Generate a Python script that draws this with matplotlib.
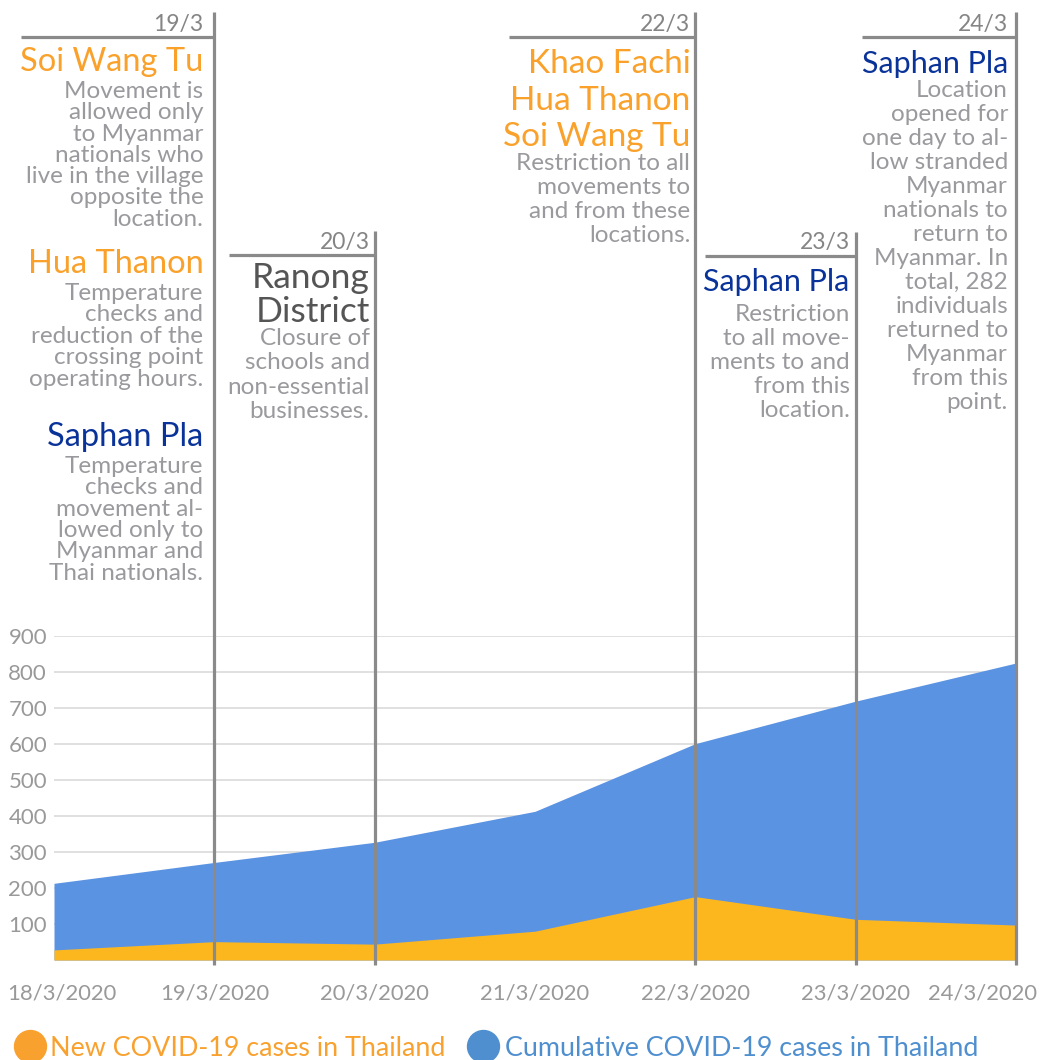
import matplotlib.pyplot as plt
from matplotlib.lines import Line2D
from matplotlib.transforms import blended_transform_factory, ScaledTranslation

plt.rcParams['font.family'] = ['Lato', 'DejaVu Sans']

# data
dates = ['18/3/2020', '19/3/2020', '20/3/2020', '21/3/2020',
         '22/3/2020', '23/3/2020', '24/3/2020']
cumulative = [213, 271, 327, 413, 601, 719, 825]
new_cases = [28, 51, 44, 80, 176, 113, 97]
yticks = [100, 200, 300, 400, 500, 600, 700, 800, 900]

event_idx = [1, 2, 4, 5, 6]
event_labels = ['19/3', '20/3', '22/3', '23/3', '24/3']

# (headline, kind, body) per event
notes_19 = [
    (['Soi Wang Tu'], 'orange',
     ['Movement is', 'allowed only', 'to Myanmar', 'nationals who',
      'live in the village', 'opposite the', 'location.']),
    (['Hua Thanon'], 'orange',
     ['Temperature', 'checks and', 'reduction of the', 'crossing point',
      'operating hours.']),
    (['Saphan Pla'], 'navy',
     ['Temperature', 'checks and', 'movement al-', 'lowed only to',
      'Myanmar and', 'Thai nationals.']),
]
notes_20 = [(['Ranong', 'District'], 'dark',
             ['Closure of', 'schools and', 'non-essential', 'businesses.'])]
notes_22 = [(['Khao Fachi', 'Hua Thanon', 'Soi Wang Tu'], 'orange',
             ['Restriction to all', 'movements to', 'and from these',
              'locations.'])]
notes_23 = [(['Saphan Pla'], 'navy',
             ['Restriction', 'to all move-', 'ments to and', 'from this',
              'location.'])]
notes_24 = [(['Saphan Pla'], 'navy',
             ['Location', 'opened for', 'one day to al-', 'low stranded',
              'Myanmar', 'nationals to', 'return to', 'Myanmar. In',
              'total, 282', 'individuals', 'returned to', 'Myanmar',
              'from this', 'point.'])]

legend_labels = ['New COVID-19 cases in Thailand',
                 'Cumulative COVID-19 cases in Thailand']

# styling
W, H = 1043, 1060
BLUE_AREA = '#5b93e3'
ORANGE_AREA = '#fdb71e'
LINE = '#8a8a8a'
BODY = '#9a9a9e'
DATE = '#858585'
TICK = '#999999'
head_colors = {'orange': '#f9a12b', 'navy': '#0a3399', 'dark': '#555555'}


def fx(px):
    return px / W


def fy(py):
    return 1 - py / H


fig = plt.figure(figsize=(W / 100, H / 100), dpi=100)
ax = fig.add_axes([fx(54), fy(960), fx(1016) - fx(54), fy(636) - fy(960)])

x = list(range(len(dates)))
ax.fill_between(x, cumulative, color=BLUE_AREA, lw=0, zorder=2)
ax.fill_between(x, new_cases, color=ORANGE_AREA, lw=0, zorder=3)

ax.set_xlim(0, len(dates) - 1)
ax.set_ylim(0, 900)
ax.set_yticks(yticks)
ax.set_xticks(x, [''] * len(x))
ax.grid(axis='y', color='#dddddd', lw=1.3)
ax.set_axisbelow(True)
for s in ax.spines.values():
    s.set_visible(False)
ax.tick_params(axis='y', length=0, pad=5, labelsize=16, labelcolor=TICK)
ax.tick_params(axis='x', length=0)

# x labels: the outer two are pulled inwards as in the reference
shift_px = [8, 0, 0, 0, 0, 0, -33]
label_y = (960 - 999) / (960 - 636)  # axes fraction of the label baseline
for xi, lab, dx in zip(x, dates, shift_px):
    tr = ax.get_xaxis_transform() + ScaledTranslation(dx / 100, 0, fig.dpi_scale_trans)
    ax.text(xi, label_y, lab, transform=tr, ha='center', va='baseline',
            fontsize=15.8, color=TICK, clip_on=False)

trans = blended_transform_factory(ax.transData, fig.transFigure)


def event_px(i):
    return 54 + i * (1016 - 54) / (len(dates) - 1)


# layout for each event: line top, hline start offset, text offset,
# date baseline, list of (headline baselines, body first baseline, body step)
layout = [
    dict(top=12, hy=37, hx=-193, tx=-11, dy=31, head_size=23.5, body_size=17.5,
         groups=[([71], 98, 21.3), ([273], 300, 21.4), ([446], 473, 21.3)]),
    dict(top=231, hy=255, hx=-146, tx=-5, dy=249, head_size=25.5, body_size=17.5,
         groups=[([288, 322], 345, 24.3)]),
    dict(top=12, hy=37, hx=-186, tx=-5, dy=31, head_size=24, body_size=17.5,
         groups=[([73, 110, 146], 170, 24)]),
    dict(top=232, hy=256, hx=-151, tx=-6, dy=249, head_size=22, body_size=17.5,
         groups=[([291], 321, 24)]),
    dict(top=12, hy=37, hx=-154, tx=-8, dy=31, head_size=22, body_size=17.5,
         groups=[([73], 97, 24)]),
]
all_notes = [notes_19, notes_20, notes_22, notes_23, notes_24]

for i, lab, lay, notes in zip(event_idx, event_labels, layout, all_notes):
    ax.plot([i, i], [fy(965), fy(lay['top'])], transform=trans, clip_on=False,
            color=LINE, lw=2.3, zorder=6, solid_capstyle='butt')
    ex = event_px(i)
    fig.add_artist(Line2D([fx(ex + lay['hx']), fx(ex)], [fy(lay['hy'])] * 2,
                          color=LINE, lw=2.3, solid_capstyle='butt'))
    xr = fx(ex + lay['tx'])
    fig.text(xr, fy(lay['dy']), lab, ha='right', va='baseline',
             fontsize=16.5, color=DATE)
    for (heads, kind, body), (hb, b0, step) in zip(notes, lay['groups']):
        for h, yb in zip(heads, hb):
            fig.text(xr, fy(yb), h, ha='right', va='baseline',
                     fontsize=lay['head_size'], color=head_colors[kind])
        for k, line in enumerate(body):
            fig.text(xr, fy(b0 + k * step), line, ha='right', va='baseline',
                     fontsize=lay['body_size'], color=BODY)

# legend
leg = [(30, 50, '#f9a12e'), (483, 505, '#4f8fcf')]
for (cx, tx, c), label in zip(leg, legend_labels):
    fig.add_artist(Line2D([fx(cx)], [fy(1046)], marker='o', markersize=23,
                          color=c, lw=0))
    fig.text(fx(tx), fy(1056), label, ha='left', va='baseline',
             fontsize=19.4, color=c)

fig.savefig('out.png', dpi=100)
